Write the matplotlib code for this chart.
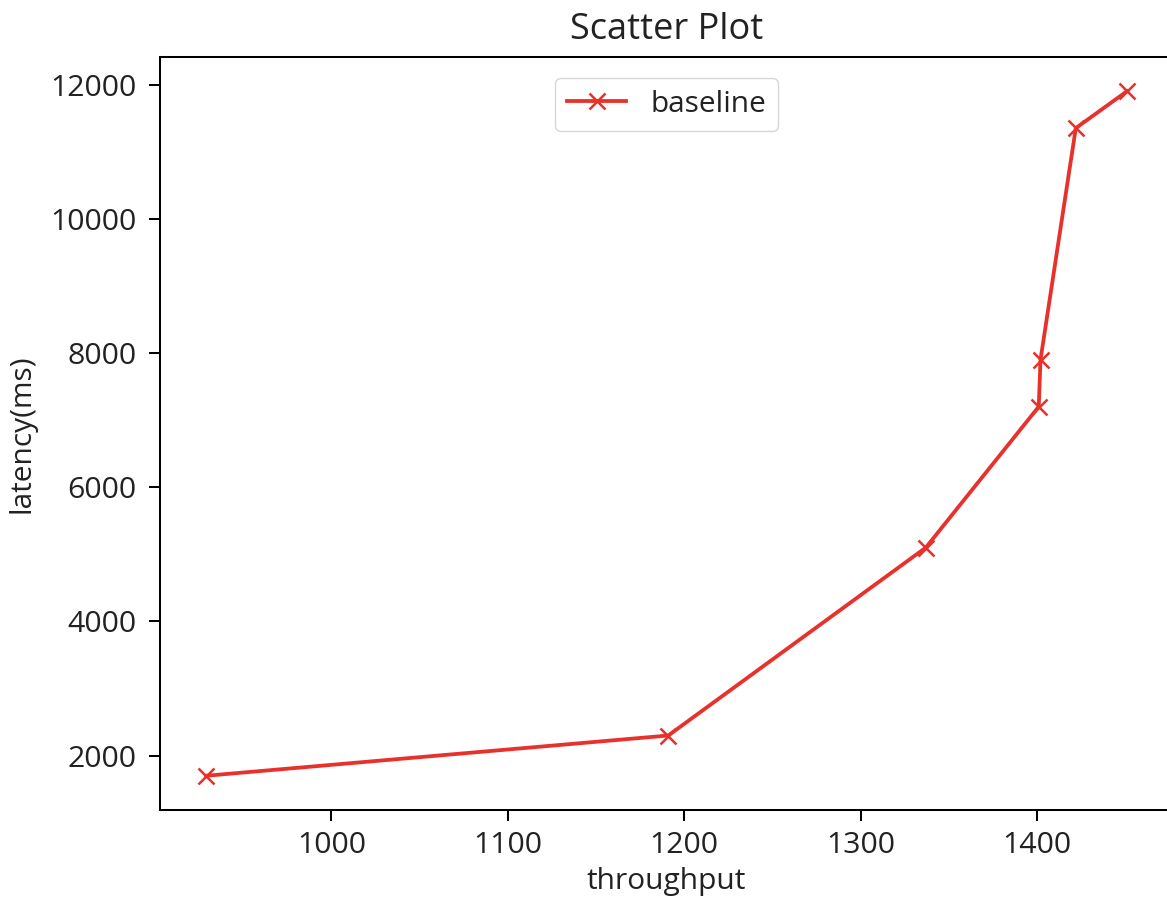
import matplotlib
matplotlib.use('Agg')
import matplotlib.pyplot as plt

# donnees
throughput = [929, 1191, 1337, 1401, 1402, 1422, 1451]
latency = [1700, 2300, 5100, 7200, 7900, 11350, 11900]
series_name = 'baseline'

s = 1.82  # facteur d'echelle pour traits et marqueurs
plt.rcParams['font.family'] = ['Open Sans', 'DejaVu Sans']
plt.rcParams['text.color'] = '#222222'
plt.rcParams['axes.labelcolor'] = '#222222'
plt.rcParams['xtick.labelcolor'] = '#222222'
plt.rcParams['ytick.labelcolor'] = '#222222'

fig = plt.figure(figsize=(11.67, 8.98), dpi=100)
ax = fig.add_axes([160 / 1167, 88 / 898, (1173 - 160) / 1167, (810 - 57) / 898])

ax.plot(throughput, latency, color='#e8312a', marker='x', linewidth=1.5 * s,
        markersize=6 * s, markeredgewidth=1.0 * s, label=series_name)

ax.set_title('Scatter Plot', fontsize=26, pad=13)
ax.set_xlabel('throughput', fontsize=21.5, labelpad=5)
ax.set_ylabel('latency(ms)', fontsize=21.5, labelpad=9.5)
ax.tick_params(labelsize=21.8, length=8, width=0.8 * s)
ax.tick_params(axis='x', pad=6.8)
ax.tick_params(axis='y', pad=9)
for sp in ax.spines.values():
    sp.set_linewidth(0.8 * s)
# le bord droit est coupe dans la capture d'origine
ax.spines['right'].set_visible(False)

ax.legend(loc='upper center', fontsize=21.5, borderaxespad=0.7)

fig.savefig('out.png', dpi=100)
